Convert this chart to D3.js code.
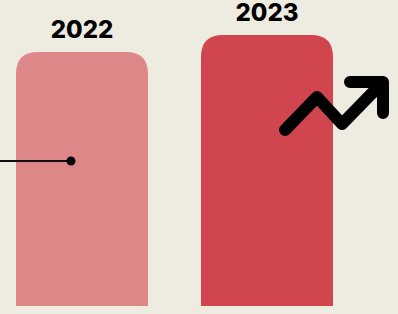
<!DOCTYPE html>
<html>
<head>
<meta charset="utf-8">
<script src="https://cdn.jsdelivr.net/npm/d3@7"></script>
<style>
  html, body { margin: 0; padding: 0; background: #eeebe1; }
  svg { display: block; }
</style>
</head>
<body>
<div id="chart"></div>
<script>
var years = ['2022', '2023'];
var values = [75, 80];
var colors = ['#dd8788', '#d0454e'];

var width = 398, height = 314;
var bottom = 306; // bars stop a bit above the edge

var svg = d3.select('#chart').append('svg')
    .attr('width', width)
    .attr('height', height);

var x = d3.scaleBand().domain(years).range([16, 333]).paddingInner(0.2865);
var y = d3.scaleLinear().domain([0, 80]).range([bottom, 35]);

// bar with only top corners rounded
function topRounded(x0, y0, w, h, r) {
    return 'M' + x0 + ',' + (y0 + h) +
        'V' + (y0 + r) +
        'Q' + x0 + ',' + y0 + ' ' + (x0 + r) + ',' + y0 +
        'H' + (x0 + w - r) +
        'Q' + (x0 + w) + ',' + y0 + ' ' + (x0 + w) + ',' + (y0 + r) +
        'V' + (y0 + h) + 'Z';
}

svg.selectAll('path.bar').data(years).enter().append('path')
    .attr('class', 'bar')
    .attr('fill', function(d, i) { return colors[i]; })
    .attr('d', function(d, i) {
        return topRounded(x(d), y(values[i]), x.bandwidth(), bottom - y(values[i]), 22);
    });

svg.selectAll('text.yr').data(years).enter().append('text')
    .attr('class', 'yr')
    .attr('x', function(d) { return x(d) + x.bandwidth() / 2; })
    .attr('y', function(d, i) { return y(values[i]) - 14; })
    .attr('text-anchor', 'middle')
    .style('font-family', 'Inter, "Noto Sans", sans-serif')
    .style('font-weight', 800)
    .style('font-size', '24px')
    .style('fill', '#000')
    .text(function(d) { return d; });

// pointer line into the first bar
svg.append('line')
    .attr('x1', 0).attr('y1', 161)
    .attr('x2', 71).attr('y2', 161)
    .style('stroke', '#111').style('stroke-width', 2);
svg.append('circle')
    .attr('cx', 71).attr('cy', 161).attr('r', 4.5)
    .style('fill', '#000');

// trend arrow icon
svg.append('path')
    .attr('d', 'M285,130 L317,97 L342,124 L383,82 M350,82 H383 V113')
    .style('fill', 'none')
    .style('stroke', '#000')
    .style('stroke-width', 12)
    .style('stroke-linecap', 'round')
    .style('stroke-linejoin', 'round');
</script>
</body>
</html>
